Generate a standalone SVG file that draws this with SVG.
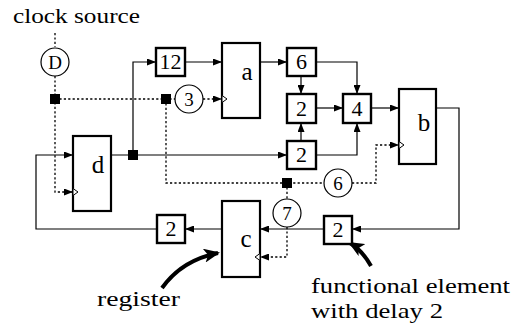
<svg xmlns="http://www.w3.org/2000/svg" width="518" height="326" viewBox="0 0 518 326">
<defs>
<marker id="arr" markerUnits="userSpaceOnUse" markerWidth="9" markerHeight="7" refX="9" refY="3.5" orient="auto"><path d="M0,0 L9,3.5 L0,7 z" fill="#000"/></marker>
<marker id="big" markerUnits="userSpaceOnUse" markerWidth="16" markerHeight="14" refX="14" refY="7" orient="auto"><path d="M0,0 L16,7 L0,14 L4,7 z" fill="#000"/></marker>
</defs>
<style>
text{font-family:"Liberation Serif","Times New Roman",serif;fill:#000}
.lbl{font-size:21px}
.reg rect{fill:#fff;stroke:#000;stroke-width:2.2}
.reg text{font-size:25px;text-anchor:middle}
.box rect{fill:#fff;stroke:#000;stroke-width:2.4}
.box text{font-size:22px;text-anchor:middle}
.cir circle{fill:#fff;stroke:#000;stroke-width:1.2}
.cir text{font-size:19px;text-anchor:middle}
.s{fill:none;stroke:#000;stroke-width:1.2}
.d{fill:none;stroke:#000;stroke-width:1.3;stroke-dasharray:2.2,2.2}
.j{fill:#000}
.clk{fill:#fff;stroke:#000;stroke-width:1}
.thick{fill:none;stroke:#000;stroke-width:4}
</style>
<g id="connectors">
<path class="s" d="M111,155 H287" marker-end="url(#arr)"/>
<path class="s" d="M133,155 V62 H156" marker-end="url(#arr)"/>
<path class="s" d="M185,62 H222" marker-end="url(#arr)"/>
<path class="s" d="M260,62 H287" marker-end="url(#arr)"/>
<path class="s" d="M316,62 H357 V94" marker-end="url(#arr)"/>
<path class="s" d="M301,76 V94" marker-end="url(#arr)"/>
<path class="s" d="M316,108 H343" marker-end="url(#arr)"/>
<path class="s" d="M371,108 H399" marker-end="url(#arr)"/>
<path class="s" d="M301,141 V123" marker-end="url(#arr)"/>
<path class="s" d="M316,155 H357 V123" marker-end="url(#arr)"/>
<path class="s" d="M436,108 H459 V229 H352" marker-end="url(#arr)"/>
<path class="s" d="M324,229 H260" marker-end="url(#arr)"/>
<path class="s" d="M222,229 H185" marker-end="url(#arr)"/>
<path class="s" d="M157,229 H36 V155 H73" marker-end="url(#arr)"/>
<path class="d" d="M55,33 V47"/>
<path class="d" d="M55,76 V192 H73" marker-end="url(#arr)"/>
<path class="d" d="M55,99 H175"/>
<path class="d" d="M203,99 H222" marker-end="url(#arr)"/>
<path class="d" d="M166,99 V183 H324"/>
<path class="d" d="M352,183 H376 V145 H399" marker-end="url(#arr)"/>
<path class="d" d="M287,183 V199"/>
<path class="d" d="M287,227 V257 H260" marker-end="url(#arr)"/>
<rect class="j" x="50" y="94" width="10" height="10"/>
<rect class="j" x="161" y="94" width="10" height="10"/>
<rect class="j" x="128" y="150" width="10" height="10"/>
<rect class="j" x="282" y="178" width="10" height="10"/>
<path class="thick" d="M162,288 Q182,260 218,253" marker-end="url(#big)"/>
<path class="thick" d="M371,266 Q362,250 350,243" marker-end="url(#big)"/>
</g>
<g id="reg-a" class="reg"><rect x="222" y="43" width="38" height="75"/><text x="247" y="80">a</text><polygon class="clk" points="222,95.5 227,99 222,102.5"/></g>
<g id="reg-b" class="reg"><rect x="399" y="89" width="37" height="75"/><text x="424" y="131">b</text><polygon class="clk" points="399,141.5 404,145 399,148.5"/></g>
<g id="reg-c" class="reg"><rect x="222" y="201" width="38" height="76"/><text x="246" y="247">c</text><polygon class="clk" points="260,253.5 255,257 260,260.5"/></g>
<g id="reg-d" class="reg"><rect x="73" y="136" width="38" height="75"/><text x="98" y="173">d</text><polygon class="clk" points="73,188.5 78,192 73,195.5"/></g>
<g id="f12" class="box"><rect x="156" y="48" width="29" height="28"/><text x="170.5" y="69">12</text></g>
<g id="f6" class="box"><rect x="287" y="48" width="29" height="28"/><text x="301.5" y="69">6</text></g>
<g id="f2mid" class="box"><rect x="287" y="94" width="29" height="29"/><text x="301.5" y="116">2</text></g>
<g id="f4" class="box"><rect x="343" y="94" width="28" height="29"/><text x="357" y="116">4</text></g>
<g id="f2low" class="box"><rect x="287" y="141" width="29" height="28"/><text x="301.5" y="162">2</text></g>
<g id="f2bl" class="box"><rect x="157" y="215" width="28" height="28"/><text x="171" y="236">2</text></g>
<g id="f2br" class="box"><rect x="324" y="216" width="28" height="28"/><text x="338" y="237">2</text></g>
<g id="cD" class="cir"><circle cx="55" cy="62" r="14"/><text x="55" y="68.5">D</text></g>
<g id="c3" class="cir"><circle cx="189" cy="99" r="14"/><text x="189" y="105.5">3</text></g>
<g id="c6" class="cir"><circle cx="338" cy="183" r="14"/><text x="338" y="189.5">6</text></g>
<g id="c7" class="cir"><circle cx="287" cy="213" r="14"/><text x="287" y="219.5">7</text></g>
<text class="lbl" x="13" y="23" textLength="127" lengthAdjust="spacingAndGlyphs">clock source</text>
<text class="lbl" x="97" y="306" textLength="83" lengthAdjust="spacingAndGlyphs">register</text>
<text class="lbl" x="311" y="293" textLength="199" lengthAdjust="spacingAndGlyphs">functional element</text>
<text class="lbl" x="311" y="318" textLength="132" lengthAdjust="spacingAndGlyphs">with delay 2</text>
</svg>
